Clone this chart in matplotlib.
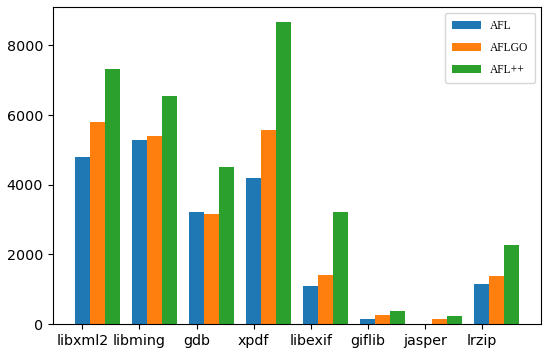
import matplotlib.pyplot as plt
import numpy as np

programs = ["libxml2", "libming", "gdb", "xpdf", "libexif", "giflib", "jasper", "lrzip"]
afl = [4810, 5290, 3220, 4190, 1100, 150, 0, 1140]
aflgo = [5800, 5400, 3150, 5560, 1415, 260, 145, 1390]
aflpp = [7310, 6560, 4510, 8660, 3220, 375, 220, 2270]

series = [("AFL", afl, "#1f77b4"), ("AFLGO", aflgo, "#ff7f0e"), ("AFL++", aflpp, "#2ca02c")]

fig = plt.figure(figsize=(5.5, 3.57), dpi=100)
ax = fig.add_axes([0.096, 0.0924, 0.888, 0.887])

x = np.arange(len(programs))
w = 0.26
for i, (name, vals, col) in enumerate(series):
    ax.bar(x + i * w, vals, w, label=name, color=col)

ax.set_xticks(x)
ax.set_xticklabels(programs)
ax.tick_params(labelsize=10.3)

leg = ax.legend(loc="upper right",
                prop={"family": "Liberation Serif", "size": 8.3},
                handlelength=2.5, labelspacing=0.85,
                borderpad=0.6)

fig.savefig("out.png", dpi=100)
